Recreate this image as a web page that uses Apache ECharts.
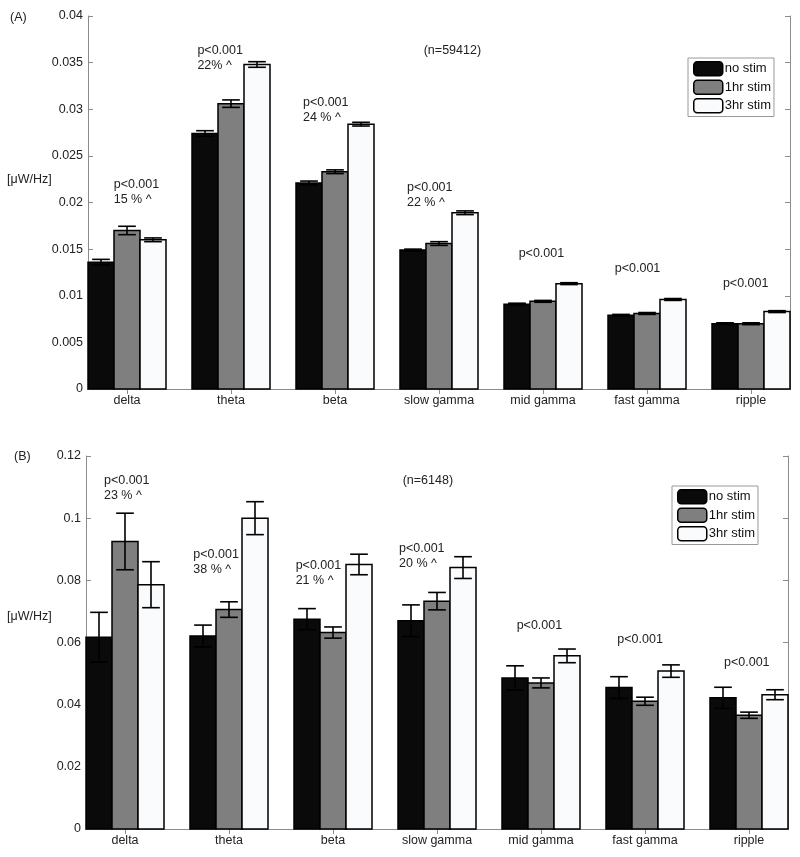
<!DOCTYPE html>
<html>
<head>
<meta charset="utf-8">
<script src="https://cdn.jsdelivr.net/npm/echarts@6/dist/echarts.min.js"></script>
<style>html,body{margin:0;padding:0;background:#fff}#c{width:800px;height:857px}</style>
</head>
<body>
<div id="c"></div>
<script>
// ---------- data ----------
const categories = ['delta', 'theta', 'beta', 'slow gamma', 'mid gamma', 'fast gamma', 'ripple'];
const groups = ['no stim', '1hr stim', '3hr stim'];

// Panel A (n=59412)
const aNoStim    = [0.0136, 0.0274, 0.0221, 0.0149, 0.0091, 0.0079, 0.0070];
const aNoStimErr = [0.0003, 0.0003, 0.0002, 0.0001, 0.0001, 0.0001, 0.0001];
const a1hr       = [0.0170, 0.0306, 0.0233, 0.0156, 0.0094, 0.0081, 0.0070];
const a1hrErr    = [0.00045,0.0004, 0.0002, 0.0002, 0.0001, 0.0001, 0.0001];
const a3hr       = [0.0160, 0.0348, 0.0284, 0.0189, 0.0113, 0.0096, 0.0083];
const a3hrErr    = [0.0002, 0.0003, 0.0002, 0.0002, 0.0001, 0.0001, 0.0001];
const aTicks = [0, 0.005, 0.01, 0.015, 0.02, 0.025, 0.03, 0.035, 0.04];
const aNote  = '(n=59412)';
const aAnnotText = ['p<0.001\n15 % ^', 'p<0.001\n22% ^', 'p<0.001\n24 % ^', 'p<0.001\n22 % ^', 'p<0.001', 'p<0.001', 'p<0.001', aNote];
const aAnnotX    = [0.872, 1.677, 2.692, 3.692, 4.766, 5.690, 6.730, 3.853];
const aAnnotY    = [0.0219, 0.03634, 0.03069, 0.02161, 0.01448, 0.0129, 0.01133, 0.0363];

// Panel B (n=6148)
const bNoStim    = [0.0617, 0.0621, 0.0675, 0.0670, 0.0486, 0.0455, 0.0422];
const bNoStimErr = [0.0080, 0.0035, 0.0034, 0.0051, 0.0039, 0.0035, 0.0034];
const b1hr       = [0.0925, 0.0706, 0.0632, 0.0733, 0.0470, 0.0411, 0.0366];
const b1hrErr    = [0.0091, 0.0025, 0.0018, 0.0028, 0.0016, 0.0013, 0.0010];
const b3hr       = [0.0786, 0.1000, 0.0851, 0.0841, 0.0557, 0.0508, 0.0432];
const b3hrErr    = [0.0074, 0.0053, 0.0033, 0.0035, 0.0022, 0.0020, 0.0016];
const bTicks = [0, 0.02, 0.04, 0.06, 0.08, 0.1, 0.12];
const bNote  = '(n=6148)';
const bAnnotText = ['p<0.001\n23 % ^', 'p<0.001\n38 % ^', 'p<0.001\n21 % ^', 'p<0.001\n20 % ^', 'p<0.001', 'p<0.001', 'p<0.001', bNote];
const bAnnotX    = [0.798, 1.657, 2.641, 3.635, 4.766, 5.734, 6.760, 3.670];
const bAnnotY    = [0.1120, 0.0882, 0.0847, 0.0903, 0.0654, 0.0611, 0.0536, 0.1120];

// ---------- styling ----------
const FONT = '"Liberation Sans", Arial, sans-serif';
const colors = ['#0a0a0a', '#7f7f7f', '#fafbfd'];
const offsets = [-0.25, 0, 0.25];
const HALF = 0.125, CAP = 0.085;
const frame = '#8c8c8c';
const catPos = categories.map((c, i) => i + 1);

function rows(vals, errs) { return vals.map((v, i) => [i + 1, v, errs[i]]); }

function barRenderer(k) {
  return function (params, api) {
    const x = api.value(0) + offsets[k], v = api.value(1), e = api.value(2);
    const p0 = api.coord([x - HALF, v]);
    const p1 = api.coord([x + HALF, 0]);
    const top = api.coord([x, v + e]);
    const bot = api.coord([x, v - e]);
    const cw = api.size([CAP, 0])[0];
    const ls = { stroke: '#000', lineWidth: 1.6 };
    return {
      type: 'group',
      children: [
        { type: 'rect', shape: { x: p0[0], y: p0[1], width: p1[0] - p0[0], height: p1[1] - p0[1] },
          style: { fill: colors[k], stroke: '#000', lineWidth: 1.5 } },
        { type: 'line', shape: { x1: top[0], y1: top[1], x2: bot[0], y2: bot[1] }, style: ls },
        { type: 'line', shape: { x1: top[0] - cw, y1: top[1], x2: top[0] + cw, y2: top[1] }, style: ls },
        { type: 'line', shape: { x1: bot[0] - cw, y1: bot[1], x2: bot[0] + cw, y2: bot[1] }, style: ls }
      ]
    };
  };
}

function annotRenderer(texts) {
  return function (params, api) {
    const p = api.coord([api.value(0), api.value(1)]);
    return {
      type: 'text', x: p[0], y: p[1] - 7.5,
      style: { text: texts[params.dataIndex], fill: '#222', fontSize: 12.5, fontFamily: FONT,
               lineHeight: 15, align: 'left', verticalAlign: 'top' }
    };
  };
}

function xAxes(gi) {
  const base = { gridIndex: gi, type: 'value', min: 0.625, max: 7.375,
    splitLine: { show: false },
    axisLine: { show: true, lineStyle: { color: frame, width: 1 } } };
  return [
    Object.assign({}, base, {
      position: 'bottom',
      axisTick: { show: true, inside: true, length: 5, customValues: catPos, lineStyle: { color: frame } },
      axisLabel: { show: true, customValues: catPos, margin: 5, color: '#222', fontSize: 12.5, fontFamily: FONT,
                   formatter: v => categories[Math.round(v) - 1] }
    }),
    Object.assign({}, base, {
      position: 'top',
      axisTick: { show: true, inside: true, length: 5, customValues: catPos, lineStyle: { color: frame } },
      axisLabel: { show: false }
    })
  ];
}

function yAxes(gi, ticks) {
  const base = { gridIndex: gi, type: 'value', min: ticks[0], max: ticks[ticks.length - 1],
    interval: ticks[1] - ticks[0], splitLine: { show: false },
    axisLine: { show: true, lineStyle: { color: frame, width: 1 } },
    axisTick: { show: true, inside: true, length: 5, lineStyle: { color: frame } } };
  return [
    Object.assign({}, base, { position: 'left',
      axisLabel: { show: true, margin: 5, color: '#222', fontSize: 12.5, fontFamily: FONT,
                   formatter: v => String(+v.toFixed(4)) } }),
    Object.assign({}, base, { position: 'right', axisLabel: { show: false } })
  ];
}

const panelData = [
  [rows(aNoStim, aNoStimErr), rows(a1hr, a1hrErr), rows(a3hr, a3hrErr)],
  [rows(bNoStim, bNoStimErr), rows(b1hr, b1hrErr), rows(b3hr, b3hrErr)]
];

const series = [];
panelData.forEach((pd, gi) => {
  pd.forEach((d, k) => {
    series.push({
      type: 'custom', name: groups[k], xAxisIndex: gi * 2, yAxisIndex: gi * 2,
      renderItem: barRenderer(k), clip: false,
      itemStyle: { color: colors[k], borderColor: '#000', borderWidth: 1.5 },
      encode: { x: 0, y: 1 }, data: d, z: 2 + k
    });
  });
});
series.push({ type: 'custom', name: 'annotA', xAxisIndex: 0, yAxisIndex: 0, clip: false, silent: true, z: 10,
  renderItem: annotRenderer(aAnnotText), encode: { x: 0, y: 1 },
  data: aAnnotX.map((x, i) => [x, aAnnotY[i]]) });
series.push({ type: 'custom', name: 'annotB', xAxisIndex: 2, yAxisIndex: 2, clip: false, silent: true, z: 10,
  renderItem: annotRenderer(bAnnotText), encode: { x: 0, y: 1 },
  data: bAnnotX.map((x, i) => [x, bAnnotY[i]]) });

const legendData = groups.map((g, k) => ({ name: g, itemStyle: { color: colors[k], borderColor: '#000', borderWidth: 1.5 } }));
function legend(left, top) {
  return { data: legendData, left: left, top: top, orient: 'vertical', icon: 'roundRect',
    itemWidth: 29, itemHeight: 14, itemGap: 3, padding: [3, 3, 3, 5],
    borderColor: '#999', borderWidth: 1, backgroundColor: '#fff',
    textStyle: { fontSize: 13, color: '#111', fontFamily: FONT, padding: [0, 0, 0, -3] } };
}

const chart = echarts.init(document.getElementById('c'), null, { renderer: 'canvas' });
chart.setOption({
  animation: false,
  backgroundColor: '#fff',
  grid: [
    { left: 88, top: 16, width: 702, height: 373 },
    { left: 86, top: 456, width: 702, height: 373 }
  ],
  xAxis: xAxes(0).concat(xAxes(1)),
  yAxis: yAxes(0, aTicks).concat(yAxes(1, bTicks)),
  legend: [legend(688, 58), legend(672, 486)],
  graphic: [
    { type: 'text', left: 10, top: 11, style: { text: '(A)', fontSize: 12.5, fontFamily: FONT, fill: '#222' } },
    { type: 'text', left: 14, top: 450, style: { text: '(B)', fontSize: 12.5, fontFamily: FONT, fill: '#222' } },
    { type: 'text', left: 7, top: 173, style: { text: '[\u03bcW/Hz]', fontSize: 12.5, fontFamily: FONT, fill: '#222' } },
    { type: 'text', left: 7, top: 610, style: { text: '[\u03bcW/Hz]', fontSize: 12.5, fontFamily: FONT, fill: '#222' } }
  ],
  series: series
});
</script>
</body>
</html>
